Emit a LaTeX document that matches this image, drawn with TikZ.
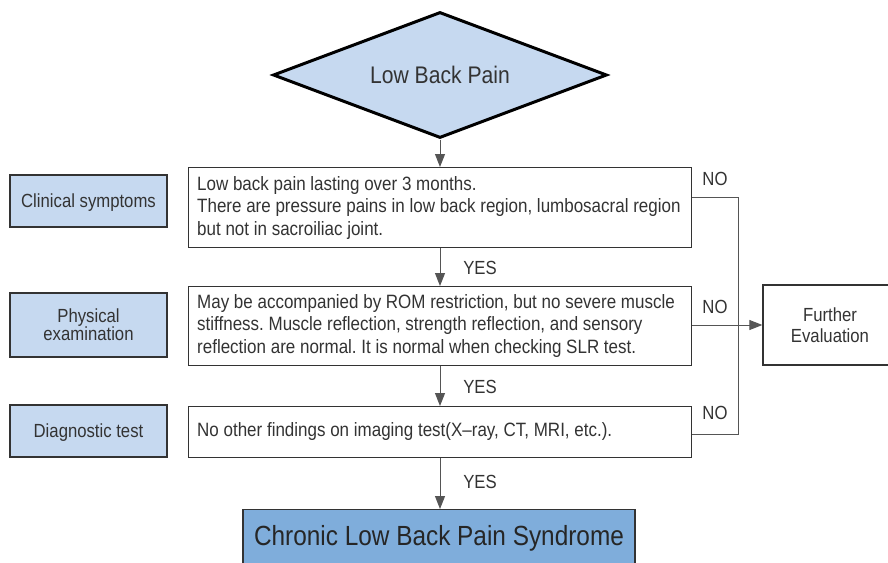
\documentclass[tikz,border=0pt]{standalone}
\usepackage{fontspec}
\setmainfont[FakeStretch=0.88]{Liberation Sans}
\usetikzlibrary{shapes.geometric,arrows.meta}
\definecolor{paleblue}{HTML}{C6D9F0}
\definecolor{midblue}{HTML}{7FADDB}
\definecolor{ink}{HTML}{333333}
\definecolor{wire}{HTML}{555555}
\frenchspacing
\tikzset{
  stagebox/.style={draw=ink,line width=1.3pt,fill=paleblue,text=ink,align=center,
    font=\fontsize{19}{18}\selectfont,inner sep=0pt,text depth=0pt},
  critbox/.style={draw=ink,line width=1.3pt,fill=white,text=ink,anchor=north west,
    inner sep=0pt},
  critext/.style={text=ink,anchor=west,align=left,font=\fontsize{19.3}{22.5}\selectfont,inner sep=0pt},
  flow/.style={draw=wire,line width=1pt,-{Triangle[width=10pt,length=13pt]}},
  wireline/.style={draw=wire,line width=1pt},
  lbl/.style={text=ink,font=\fontsize{19}{20}\selectfont,inner sep=0pt}
}
\begin{document}
\begin{tikzpicture}[x=1pt,y=-1pt]
\clip (0,0) rectangle (888,562);
\fill[white] (0,0) rectangle (888,562);

% start diamond
\node[diamond,draw=black,line width=3pt,fill=paleblue,text=ink,minimum width=334pt,
  minimum height=126pt,aspect=2.65,inner sep=0pt,font=\fontsize{24}{26}\selectfont]
  (start) at (440,75) {Low Back Pain};

% stage labels on the left
\node[stagebox,minimum width=157pt,minimum height=52pt] (s1) at (88.5,201) {Clinical symptoms};
\node[stagebox,minimum width=157pt,minimum height=64pt] (s2) at (88.5,325) {Physical\\examination};
\node[stagebox,minimum width=157pt,minimum height=52pt] (s3) at (88.5,431) {Diagnostic test};

% criteria boxes
\node[critbox,minimum width=503pt,minimum height=80pt] (c1) at (188,167) {};
\node[critext] at (197,208) {Low back pain lasting over 3 months.\\
There are pressure pains in low back region, lumbosacral region\\
but not in sacroiliac joint.};
\node[critbox,minimum width=503pt,minimum height=79pt] (c2) at (188,286) {};
\node[critext] at (197,326) {May be accompanied by ROM restriction, but no severe muscle\\
stiffness. Muscle reflection, strength reflection, and sensory\\
reflection are normal. It is normal when checking SLR test.};
\node[critbox,minimum width=503pt,minimum height=51pt] (c3) at (188,406) {};
\node[critext] at (197,432) {No other findings on imaging test(X\textendash ray, CT, MRI, etc.).};

% outcomes
\node[draw=ink,line width=1.3pt,fill=white,text=ink,align=center,minimum width=134pt,
  minimum height=80pt,inner sep=0pt,font=\fontsize{19}{21}\selectfont]
  (further) at (830,325) {Further\\Evaluation};
\node[draw=ink,line width=1.3pt,fill=midblue,minimum width=392pt,
  minimum height=80pt,inner sep=0pt,anchor=north]
  (final) at (439,509) {};
\node[text=black!85,font=\fontsize{27.7}{30}\selectfont,inner sep=0pt] (finaltext) at (439,538) {Chronic Low Back Pain Syndrome};

% YES path
\draw[flow] (start.south) -- (c1.north -| start.south);
\draw[flow] (c1.south -| start.south) -- (c2.north -| start.south);
\draw[flow] (c2.south -| start.south) -- (c3.north -| start.south);
\draw[flow] (c3.south -| start.south) -- (final.north -| start.south);
\node[lbl] (y1) at (480,268) {YES};
\node[lbl] (y2) at (480,387) {YES};
\node[lbl] (y3) at (480,482) {YES};

% NO path
\coordinate (bus) at (738,0);
\draw[wireline] (c1.east |- 0,197) -- (bus |- 0,197) -- (bus |- 0,434) -- (c3.east |- 0,434);
\draw[flow] (c2.east |- further.west) -- (further.west);
\node[lbl] (n1) at (715,179) {NO};
\node[lbl] (n2) at (715,307) {NO};
\node[lbl] (n3) at (715,413) {NO};
\end{tikzpicture}
\end{document}
